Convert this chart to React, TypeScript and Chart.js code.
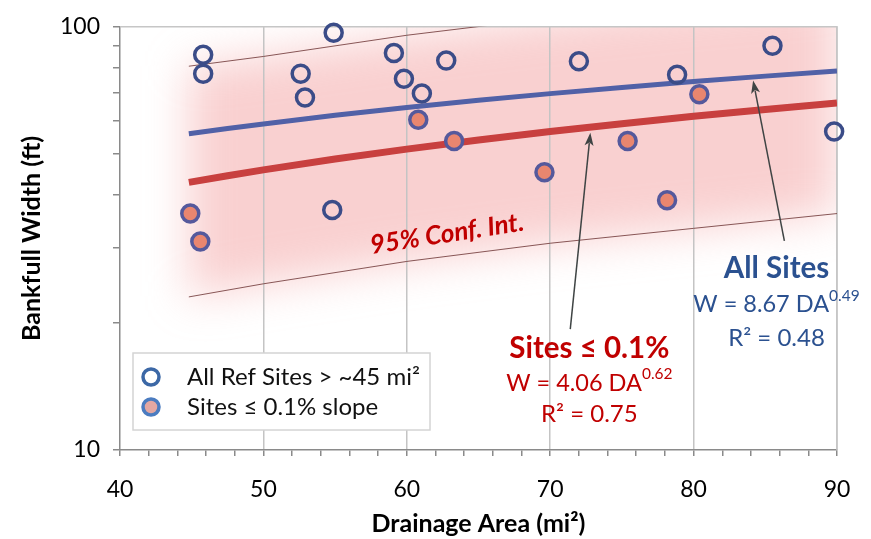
import React, { useEffect, useRef } from 'react';
import { Chart, registerables } from 'chart.js';

Chart.register(...registerables);

// All reference sites: drainage area (mi²) and bankfull width (ft)
const allSitesArea = [45.8, 45.8, 52.6, 52.9, 54.9, 54.8, 59.1, 59.8, 61.05, 62.75, 72.0, 78.85, 85.5, 89.8];
const allSitesWidth = [85.9, 77.5, 77.5, 68.1, 96.8, 36.9, 86.7, 75.4, 69.6, 83.2, 82.9, 77.0, 90.2, 56.6];

// Sites with channel slope ≤ 0.1%
const lowSlopeArea = [44.9, 45.6, 60.8, 63.3, 69.6, 75.4, 78.15, 80.4];
const lowSlopeWidth = [36.2, 31.1, 60.3, 53.7, 45.3, 53.7, 38.9, 69.3];

// Power-law regressions W = a · DA^b  ([a, b]) and their R²
const fitAllCoef = [8.67, 0.49];
const fitAllR2 = 0.48;
const fitLowCoef = [4.06, 0.62];
const fitLowR2 = 0.75;
const fitArea = [44.8, 47.5, 50, 55, 60, 65, 70, 75, 80, 85, 90];

// 95% confidence interval bounds around the ≤ 0.1% fit
const ciArea = [44.8, 50, 60, 70, 80, 90];
const ciUpper = [80.7, 85.1, 95.5, 105, 114, 122];
const ciLower = [23.0, 24.7, 27.9, 30.8, 33.4, 36.2];

// Axis ticks
const xTicks = [40, 50, 60, 70, 80, 90];
const yTicks = [10, 20, 30, 40, 50, 60, 70, 80, 90, 100];
const yTickLabels = [10, 100];

const FONT = 'Lato, "Open Sans", sans-serif';

const fitLine = (coef: number[]) =>
  fitArea.map((x) => ({ x, y: coef[0] * Math.pow(x, coef[1]) }));

const zip = (xs: number[], ys: number[]) => xs.map((x, i) => ({ x, y: ys[i] }));

// Annotation anchors in data units (drainage area, width)
const labelAll = { x: 85.78, y: 26.8 };
const labelLow = { x: 72.73, y: 17.38 };
const labelCI = { x: 62.8, y: 32.4 };
const arrowAll = { from: [86.33, 31.2], to: [84.15, 74.7] };
const arrowLow = { from: [71.4, 19.3], to: [72.8, 56.2] };

const bandGlow = {
  id: 'bandGlow',
  beforeDraw(chart: any) {
    const { ctx, chartArea: a, scales } = chart;
    const x = scales.x;
    const y = scales.y;
    ctx.save();
    ctx.beginPath();
    ctx.rect(a.left, a.top, a.right - a.left, a.bottom - a.top);
    ctx.clip();
    ctx.filter = 'blur(22px)';
    ctx.fillStyle = 'rgba(242,150,150,0.45)';
    ctx.beginPath();
    ciArea.forEach((v, i) => {
      const px = x.getPixelForValue(v);
      const py = y.getPixelForValue(ciUpper[i]);
      if (i === 0) ctx.moveTo(px, py);
      else ctx.lineTo(px, py);
    });
    for (let i = ciArea.length - 1; i >= 0; i--) {
      ctx.lineTo(x.getPixelForValue(ciArea[i]), y.getPixelForValue(ciLower[i]));
    }
    ctx.closePath();
    ctx.fill();
    ctx.restore();
  },
};

const frame = {
  id: 'frame',
  beforeDatasetsDraw(chart: any) {
    const { ctx, chartArea: a } = chart;
    ctx.save();
    ctx.strokeStyle = '#c6c6c6';
    ctx.lineWidth = 1.5;
    ctx.beginPath();
    ctx.moveTo(a.left, a.top);
    ctx.lineTo(a.right, a.top);
    ctx.lineTo(a.right, a.bottom);
    ctx.stroke();
    ctx.restore();
  },
};

function drawArrow(ctx: CanvasRenderingContext2D, x1: number, y1: number, x2: number, y2: number) {
  const ang = Math.atan2(y2 - y1, x2 - x1);
  const len = 13;
  const half = 4.5;
  ctx.beginPath();
  ctx.moveTo(x1, y1);
  ctx.lineTo(x2 - Math.cos(ang) * len * 0.8, y2 - Math.sin(ang) * len * 0.8);
  ctx.stroke();
  ctx.beginPath();
  ctx.moveTo(x2, y2);
  ctx.lineTo(x2 - Math.cos(ang) * len + Math.sin(ang) * half, y2 - Math.sin(ang) * len - Math.cos(ang) * half);
  ctx.lineTo(x2 - Math.cos(ang) * len * 0.75, y2 - Math.sin(ang) * len * 0.75);
  ctx.lineTo(x2 - Math.cos(ang) * len - Math.sin(ang) * half, y2 - Math.sin(ang) * len + Math.cos(ang) * half);
  ctx.closePath();
  ctx.fill();
}

function drawEquation(
  ctx: CanvasRenderingContext2D,
  coef: number[],
  cx: number,
  cy: number,
  color: string
) {
  const main = `W = ${coef[0].toFixed(2)} DA`;
  const sup = coef[1].toFixed(2);
  ctx.font = `23.5px ${FONT}`;
  const w1 = ctx.measureText(main).width;
  ctx.font = `15.5px ${FONT}`;
  const w2 = ctx.measureText(sup).width;
  const start = cx - (w1 + w2) / 2;
  ctx.fillStyle = color;
  ctx.textAlign = 'left';
  ctx.textBaseline = 'middle';
  ctx.font = `23.5px ${FONT}`;
  ctx.fillText(main, start, cy);
  ctx.font = `15.5px ${FONT}`;
  ctx.fillText(sup, start + w1, cy - 9);
}

const annotations = {
  id: 'annotations',
  afterDatasetsDraw(chart: any) {
    const { ctx, chartArea: a, scales } = chart;
    const x = scales.x;
    const y = scales.y;
    const px = (v: number) => x.getPixelForValue(v);
    const py = (v: number) => y.getPixelForValue(v);
    ctx.save();

    // arrows pointing at the fitted lines
    ctx.strokeStyle = '#3f4444';
    ctx.fillStyle = '#3f4444';
    ctx.lineWidth = 1.5;
    drawArrow(ctx, px(arrowAll.from[0]), py(arrowAll.from[1]), px(arrowAll.to[0]), py(arrowAll.to[1]));
    drawArrow(ctx, px(arrowLow.from[0]), py(arrowLow.from[1]), px(arrowLow.to[0]), py(arrowLow.to[1]));

    // All sites fit label
    const blue = '#2b5190';
    const ax = px(labelAll.x);
    const ay = py(labelAll.y);
    ctx.textAlign = 'center';
    ctx.textBaseline = 'middle';
    ctx.fillStyle = blue;
    ctx.font = `bold 29.5px ${FONT}`;
    ctx.fillText('All Sites', ax, ay);
    drawEquation(ctx, fitAllCoef, ax, ay + 36, blue);
    ctx.textAlign = 'center';
    ctx.font = `24px ${FONT}`;
    ctx.fillText(`R² = ${fitAllR2.toFixed(2)}`, ax, ay + 69);

    // ≤ 0.1% slope fit label
    const red = '#c00000';
    const lx = px(labelLow.x);
    const ly = py(labelLow.y);
    ctx.fillStyle = red;
    ctx.textAlign = 'center';
    ctx.font = `bold 29.5px ${FONT}`;
    ctx.fillText('Sites ≤ 0.1%', lx, ly);
    drawEquation(ctx, fitLowCoef, lx, ly + 35, red);
    ctx.textAlign = 'center';
    ctx.font = `24px ${FONT}`;
    ctx.fillText(`R² = ${fitLowR2.toFixed(2)}`, lx, ly + 66);

    // confidence interval caption
    ctx.save();
    ctx.translate(px(labelCI.x), py(labelCI.y));
    ctx.rotate((-8.8 * Math.PI) / 180);
    ctx.font = `italic bold 26px ${FONT}`;
    ctx.fillStyle = red;
    ctx.textAlign = 'center';
    ctx.fillText('95% Conf. Int.', 0, 0);
    ctx.restore();

    // legend box
    const bx = a.left + 13;
    const by = a.bottom - 97;
    const bw = 297;
    const bh = 77;
    ctx.fillStyle = '#ffffff';
    ctx.fillRect(bx, by, bw, bh);
    ctx.strokeStyle = '#d4d4d4';
    ctx.lineWidth = 1.5;
    ctx.strokeRect(bx, by, bw, bh);

    const mx = bx + 18;
    const rows = [
      { text: 'All Ref Sites > ~45 mi²', fill: '#ffffff', stroke: '#3c68a6', y: by + 24 },
      { text: 'Sites ≤ 0.1% slope', fill: '#e3a7a2', stroke: '#4b7cc0', y: by + 54 },
    ];
    rows.forEach((r) => {
      ctx.beginPath();
      ctx.arc(mx, r.y, 8, 0, Math.PI * 2);
      ctx.fillStyle = r.fill;
      ctx.fill();
      ctx.lineWidth = 3.5;
      ctx.strokeStyle = r.stroke;
      ctx.stroke();
      ctx.fillStyle = '#111111';
      ctx.font = `24px ${FONT}`;
      ctx.textAlign = 'left';
      ctx.textBaseline = 'middle';
      ctx.fillText(r.text, bx + 54, r.y);
    });

    ctx.restore();
  },
};

export default function App() {
  const canvasRef = useRef<HTMLCanvasElement | null>(null);

  useEffect(() => {
    const canvas = canvasRef.current;
    if (!canvas) return;
    const chart = new Chart(canvas, {
      type: 'scatter',
      data: {
        datasets: [
          {
            label: 'All Ref Sites > ~45 mi²',
            data: zip(allSitesArea, allSitesWidth),
            pointRadius: 8.5,
            pointBorderWidth: 3.5,
            pointBorderColor: '#3b4c88',
            pointBackgroundColor: 'rgba(255,255,255,0)',
            order: 0,
            clip: false,
          },
          {
            label: 'Sites ≤ 0.1% slope',
            data: zip(lowSlopeArea, lowSlopeWidth),
            pointRadius: 8.5,
            pointBorderWidth: 3.5,
            pointBorderColor: '#55599c',
            pointBackgroundColor: '#e9866f',
            order: 0,
            clip: false,
          },
          {
            label: 'All sites fit',
            data: fitLine(fitAllCoef),
            showLine: true,
            borderColor: '#5161a7',
            borderWidth: 5,
            pointRadius: 0,
            order: 2,
          },
          {
            label: 'Low slope fit',
            data: fitLine(fitLowCoef),
            showLine: true,
            borderColor: '#c8403f',
            borderWidth: 7,
            pointRadius: 0,
            order: 2,
          },
          {
            label: 'Upper 95%',
            data: zip(ciArea, ciUpper),
            showLine: true,
            borderColor: 'rgba(115,60,60,0.85)',
            borderWidth: 1,
            pointRadius: 0,
            order: 3,
          },
          {
            label: 'Lower 95%',
            data: zip(ciArea, ciLower),
            showLine: true,
            borderColor: 'rgba(115,60,60,0.85)',
            borderWidth: 1,
            pointRadius: 0,
            order: 3,
          },
        ],
      },
      options: {
        animation: false,
        responsive: false,
        devicePixelRatio: 1,
        layout: { padding: { left: 0, right: 34, top: 20, bottom: 0 } },
        plugins: {
          legend: { display: false },
          tooltip: { enabled: false },
        },
        scales: {
          x: {
            type: 'linear',
            min: 40,
            max: 90,
            afterFit: (s: any) => {
              s.height = 89;
            },
            afterBuildTicks: (s: any) => {
              const t: { value: number }[] = [];
              for (let v = xTicks[0]; v <= xTicks[xTicks.length - 1]; v += 2) t.push({ value: v });
              s.ticks = t;
            },
            ticks: {
              autoSkip: false,
              maxRotation: 0,
              padding: 20,
              color: '#000000',
              font: { family: FONT, size: 23 },
              callback: (v: any) => (xTicks.includes(Number(v)) ? String(v) : ''),
            },
            grid: {
              lineWidth: 1.5,
              tickLength: 6,
              tickColor: '#8a8a8a',
              color: (c: any) => {
                const v = c.tick ? c.tick.value : 0;
                return v % 10 === 0 && v !== 40 ? '#c4c4c4' : 'rgba(0,0,0,0)';
              },
            },
            border: { color: '#8a8a8a', width: 1.5 },
            title: {
              display: true,
              text: 'Drainage Area (mi²)',
              color: '#000000',
              font: { family: FONT, size: 25, weight: 'bold' },
              padding: { top: 0, bottom: 0 },
            },
          },
          y: {
            type: 'logarithmic',
            min: 10,
            max: 100,
            afterFit: (s: any) => {
              s.width = 120;
            },
            afterBuildTicks: (s: any) => {
              s.ticks = yTicks.map((value) => ({ value }));
            },
            ticks: {
              autoSkip: false,
              padding: 13,
              color: '#000000',
              font: { family: FONT, size: 23 },
              callback: (v: any) => (yTickLabels.includes(Number(v)) ? String(v) : ''),
            },
            grid: {
              drawOnChartArea: false,
              lineWidth: 1.5,
              tickLength: 7,
              tickColor: '#8a8a8a',
              color: '#8a8a8a',
            },
            border: { color: '#8a8a8a', width: 1.5 },
            title: {
              display: true,
              text: 'Bankfull Width (ft)',
              color: '#000000',
              font: { family: FONT, size: 25, weight: 'bold' },
              padding: { top: 17, bottom: 0 },
            },
          },
        },
      },
      plugins: [bandGlow, frame, annotations],
    } as any);
    return () => chart.destroy();
  }, []);

  return (
    <div style={{ position: 'absolute', left: 0, top: 0, width: 871, height: 539, background: '#ffffff' }}>
      <canvas ref={canvasRef} width={871} height={539} />
    </div>
  );
}
